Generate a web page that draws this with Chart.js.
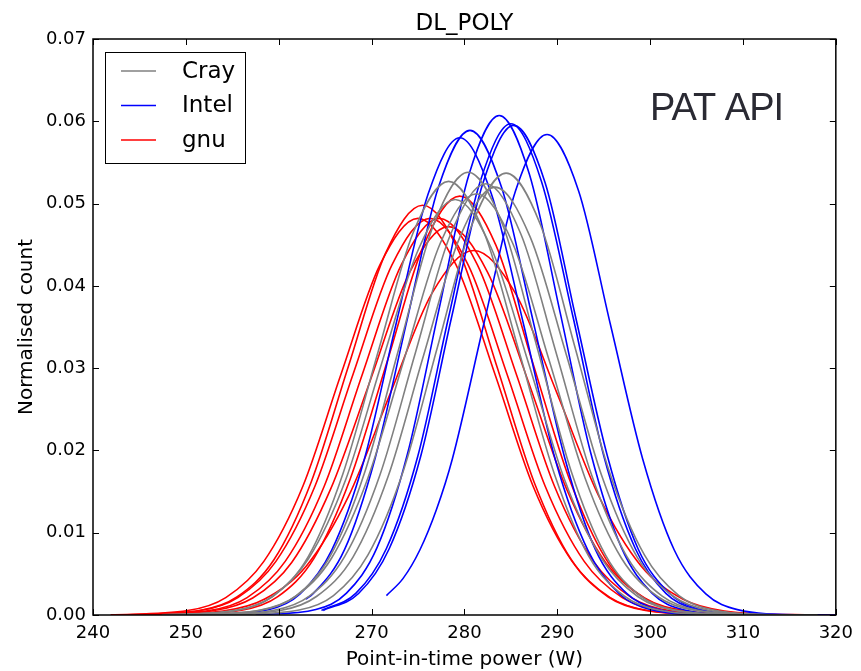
<!DOCTYPE html>
<html>
<head>
<meta charset="utf-8">
<script src="https://cdn.jsdelivr.net/npm/chart.js@4"></script>
<style>
  body { margin: 0; background: #fff; }
  #wrap { width: 861px; height: 671px; }
</style>
</head>
<body>
<div id="wrap"><canvas id="powerChart" width="861" height="671"></canvas></div>
<script>
// points (W, normalised count)
const crayX = [
  [250.7, 258.2, 261.9, 265.6, 269.3, 273.0, 276.7, 280.4, 284.1, 287.8, 291.5, 295.2, 298.9, 302.6, 310.1, 316],
  [254.8, 262.2, 265.9, 269.6, 273.4, 277.1, 280.8, 284.5, 288.2, 291.9, 295.6, 299.4, 303.1, 306.8, 314.2, 318],
  [248.0, 255.6, 259.4, 263.2, 266.9, 270.7, 274.5, 278.3, 282.1, 285.9, 289.7, 293.4, 297.2, 301.0, 308.6, 316],
  [251.9, 259.5, 263.3, 267.1, 270.9, 274.7, 278.5, 282.3, 286.1, 289.9, 293.7, 297.5, 301.3, 305.1, 312.7, 318],
  [250.1, 257.9, 261.8, 265.7, 269.6, 273.5, 277.4, 281.3, 285.2, 289.1, 293.0, 296.9, 300.8, 304.7, 312.5, 318],
  [252.6, 260.3, 264.1, 268.0, 271.8, 275.6, 279.5, 283.3, 287.1, 291.0, 294.8, 298.6, 302.5, 306.3, 314.0, 318],
  [247.4, 255.3, 259.3, 263.2, 267.2, 271.1, 275.1, 279.0, 282.9, 286.9, 290.8, 294.8, 298.7, 302.7, 310.6, 318]
];
const crayY = [
  [0.00002, 0.00060, 0.00236, 0.00728, 0.01747, 0.03263, 0.04748, 0.05380, 0.04748, 0.03263, 0.01747, 0.00728, 0.00236, 0.00060, 0.00002, 0],
  [0.00002, 0.00060, 0.00236, 0.00727, 0.01744, 0.03257, 0.04739, 0.05370, 0.04739, 0.03257, 0.01744, 0.00727, 0.00236, 0.00060, 0.00002, 0],
  [0.00002, 0.00058, 0.00231, 0.00713, 0.01711, 0.03196, 0.04651, 0.05270, 0.04651, 0.03196, 0.01711, 0.00713, 0.00231, 0.00058, 0.00002, 0],
  [0.00002, 0.00058, 0.00230, 0.00709, 0.01701, 0.03178, 0.04624, 0.05240, 0.04624, 0.03178, 0.01701, 0.00709, 0.00230, 0.00058, 0.00002, 0],
  [0.00002, 0.00057, 0.00225, 0.00693, 0.01662, 0.03105, 0.04518, 0.05120, 0.04518, 0.03105, 0.01662, 0.00693, 0.00225, 0.00057, 0.00002, 0],
  [0.00002, 0.00058, 0.00228, 0.00704, 0.01688, 0.03154, 0.04589, 0.05200, 0.04589, 0.03154, 0.01688, 0.00704, 0.00228, 0.00058, 0.00002, 0],
  [0.00002, 0.00056, 0.00222, 0.00683, 0.01640, 0.03063, 0.04457, 0.05050, 0.04457, 0.03063, 0.01640, 0.00683, 0.00222, 0.00056, 0.00002, 0]
];

const intelX = [
  [252.0, 258.9, 262.3, 265.7, 269.2, 272.6, 276.1, 279.5, 282.9, 286.4, 289.8, 293.3, 296.7, 300.1, 307.0, 316],
  [262.9, 263.7, 267.1, 270.4, 273.8, 277.2, 280.6, 284.0, 287.4, 290.8, 294.1, 297.5, 300.9, 307.7, 316],
  [257.5, 264.0, 267.3, 270.6, 273.9, 277.2, 280.5, 283.75, 287.0, 290.3, 293.6, 296.9, 300.2, 303.5, 310.0, 316],
  [264.6, 268.3, 271.6, 275.0, 278.3, 281.7, 285.0, 288.3, 291.7, 295.0, 298.4, 301.7, 305.0, 311.7, 318],
  [264.8, 268.6, 271.9, 275.3, 278.6, 282.0, 285.3, 288.7, 292.0, 295.4, 298.7, 302.1, 305.4, 312.1, 318],
  [271.6, 273.4, 275.2, 277.0, 278.7, 282.1, 285.5, 288.9, 292.3, 295.7, 299.2, 302.6, 306.0, 309.4, 316.2, 320]
];
const intelY = [
  [0.00002, 0.00064, 0.00255, 0.00785, 0.01883, 0.03518, 0.05119, 0.05800, 0.05119, 0.03518, 0.01883, 0.00785, 0.00255, 0.00064, 0.00002, 0],
  [0.00193, 0.00259, 0.00797, 0.01912, 0.03572, 0.05198, 0.05890, 0.05198, 0.03572, 0.01912, 0.00797, 0.00259, 0.00065, 0.00002, 0],
  [0.00002, 0.00067, 0.00266, 0.00821, 0.01971, 0.03681, 0.05357, 0.06070, 0.05357, 0.03681, 0.01971, 0.00821, 0.00266, 0.00067, 0.00002, 0],
  [0.00056, 0.00262, 0.00808, 0.01938, 0.03621, 0.05269, 0.05970, 0.05269, 0.03621, 0.01938, 0.00808, 0.00262, 0.00066, 0.00002, 0],
  [0.00055, 0.00261, 0.00805, 0.01932, 0.03609, 0.05251, 0.05950, 0.05251, 0.03609, 0.01932, 0.00805, 0.00261, 0.00066, 0.00002, 0],
  [0.00236, 0.00445, 0.00790, 0.01285, 0.01896, 0.03542, 0.05154, 0.05840, 0.05154, 0.03542, 0.01896, 0.00790, 0.00256, 0.00065, 0.00002, 0]
];

const gnuX = [
  [243.5, 251.5, 255.5, 259.5, 263.5, 267.5, 271.5, 275.5, 279.5, 283.5, 287.5, 291.5, 295.5, 299.5, 307.5, 318],
  [243.2, 251.5, 255.6, 259.7, 263.9, 268.0, 272.2, 276.3, 280.4, 284.6, 288.7, 292.9, 297.0, 301.1, 309.4, 318],
  [244.2, 252.5, 256.6, 260.7, 264.9, 269.0, 273.2, 277.3, 281.4, 285.6, 289.7, 293.9, 298.0, 302.1, 310.4, 318],
  [244.5, 252.9, 257.2, 261.4, 265.6, 269.9, 274.1, 278.3, 282.5, 286.8, 291.0, 295.2, 299.4, 303.7, 312.1, 318],
  [248.1, 256.0, 259.9, 263.8, 267.7, 271.7, 275.6, 279.5, 283.4, 287.3, 291.3, 295.2, 299.1, 303.0, 310.9, 318],
  [245.0, 254.0, 258.5, 263.0, 267.5, 272.0, 276.5, 281.0, 285.5, 290.0, 294.5, 299.0, 303.5, 308.0, 317.0, 320],
  [241.9, 250.2, 254.3, 258.4, 262.6, 266.7, 270.9, 275.0, 279.1, 283.3, 287.4, 291.6, 295.7, 299.8, 308.1, 318]
];
const gnuY = [
  [0.00002, 0.00055, 0.00219, 0.00674, 0.01617, 0.03020, 0.04395, 0.04980, 0.04395, 0.03020, 0.01617, 0.00674, 0.00219, 0.00055, 0.00002, 0],
  [0.00002, 0.00054, 0.00212, 0.00652, 0.01565, 0.02923, 0.04254, 0.04820, 0.04254, 0.02923, 0.01565, 0.00652, 0.00212, 0.00054, 0.00002, 0],
  [0.00002, 0.00054, 0.00212, 0.00652, 0.01565, 0.02923, 0.04254, 0.04820, 0.04254, 0.02923, 0.01565, 0.00652, 0.00212, 0.00054, 0.00002, 0],
  [0.00002, 0.00052, 0.00207, 0.00639, 0.01533, 0.02863, 0.04165, 0.04720, 0.04165, 0.02863, 0.01533, 0.00639, 0.00207, 0.00052, 0.00002, 0],
  [0.00002, 0.00057, 0.00223, 0.00689, 0.01653, 0.03087, 0.04492, 0.05090, 0.04492, 0.03087, 0.01653, 0.00689, 0.00223, 0.00057, 0.00002, 0],
  [0.00002, 0.00049, 0.00194, 0.00599, 0.01438, 0.02687, 0.03909, 0.04430, 0.03909, 0.02687, 0.01438, 0.00599, 0.00194, 0.00049, 0.00002, 0],
  [0.00002, 0.00054, 0.00212, 0.00652, 0.01565, 0.02923, 0.04254, 0.04820, 0.04254, 0.02923, 0.01565, 0.00652, 0.00212, 0.00054, 0.00002, 0]
];

const groupNames = ['Cray', 'Intel', 'gnu'];
const groupColors = ['#808080', '#0000ff', '#ff0000'];
const xTicks = [240, 250, 260, 270, 280, 290, 300, 310, 320];
const yTicks = [0, 0.01, 0.02, 0.03, 0.04, 0.05, 0.06, 0.07];

const FONT = '"DejaVu Sans", sans-serif';

function makeSets(xs, ys, color, name) {
    return xs.map((xRow, i) => ({
        label: name,
        data: xRow.map((x, j) => ({ x: x, y: ys[i][j] })),
        borderColor: color,
        borderWidth: 1.6,
        pointRadius: 0,
        fill: false,
        cubicInterpolationMode: 'monotone'
    }));
}

const datasets = [].concat(
    makeSets(crayX, crayY, groupColors[0], groupNames[0]),
    makeSets(intelX, intelY, groupColors[1], groupNames[1]),
    makeSets(gnuX, gnuY, groupColors[2], groupNames[2])
);

// frame, inward ticks, titles, legend and label drawn like the matplotlib original
const decor = {
    id: 'decor',
    afterDraw(chart) {
        const c = chart.ctx;
        const a = chart.chartArea;
        const sx = chart.scales.x, sy = chart.scales.y;
        c.save();
        c.strokeStyle = '#000';
        c.lineWidth = 1;
        xTicks.forEach(v => {
            const p = Math.round(sx.getPixelForValue(v)) + 0.5;
            c.beginPath();
            c.moveTo(p, a.bottom); c.lineTo(p, a.bottom - 6);
            c.moveTo(p, a.top); c.lineTo(p, a.top + 6);
            c.stroke();
        });
        yTicks.forEach(v => {
            const p = Math.round(sy.getPixelForValue(v)) + 0.5;
            c.beginPath();
            c.moveTo(a.left, p); c.lineTo(a.left + 6, p);
            c.moveTo(a.right, p); c.lineTo(a.right - 6, p);
            c.stroke();
        });
        c.lineWidth = 1.5;
        c.strokeRect(a.left, a.top, a.right - a.left, a.bottom - a.top);

        c.fillStyle = '#000';
        c.textAlign = 'center';
        c.textBaseline = 'alphabetic';
        c.font = '23px ' + FONT;
        c.fillText('DL_POLY', (a.left + a.right) / 2, 30);
        c.font = '20px ' + FONT;
        c.fillText('Point-in-time power (W)', (a.left + a.right) / 2, 665);
        c.save();
        c.translate(32, (a.top + a.bottom) / 2);
        c.rotate(-Math.PI / 2);
        c.fillText('Normalised count', 0, 0);
        c.restore();

        // legend
        c.fillStyle = '#fff';
        c.fillRect(105, 52, 140, 111);
        c.strokeStyle = '#000';
        c.lineWidth = 1;
        c.strokeRect(105.5, 52.5, 140, 111);
        c.textAlign = 'left';
        c.textBaseline = 'middle';
        c.font = '23px ' + FONT;
        groupNames.forEach((n, i) => {
            const y = 71 + i * 34.5;
            c.strokeStyle = groupColors[i];
            c.lineWidth = 1.6;
            c.beginPath();
            c.moveTo(121, y); c.lineTo(156, y);
            c.stroke();
            c.fillStyle = '#000';
            c.fillText(n, 182, y + 1);
        });

        c.fillStyle = '#2a2a33';
        c.textBaseline = 'alphabetic';
        c.font = '38px "Liberation Sans", Arial, sans-serif';
        c.letterSpacing = '-1px';
        c.fillText('PAT API', 650, 119.5);
        c.restore();
    }
};

new Chart(document.getElementById('powerChart'), {
    type: 'line',
    data: { datasets: datasets },
    options: {
        responsive: false,
        animation: false,
        devicePixelRatio: 1,
        layout: { padding: { top: 39, right: 22, left: 0, bottom: 0 } },
        plugins: {
            legend: { display: false },
            tooltip: { enabled: false }
        },
        scales: {
            x: {
                type: 'linear',
                min: 240,
                max: 320,
                afterFit: s => { s.height = 56; },
                afterBuildTicks: s => { s.ticks = xTicks.map(v => ({ value: v })); },
                grid: { display: false, drawTicks: false },
                border: { display: false },
                ticks: {
                    color: '#000',
                    padding: 8,
                    maxRotation: 0,
                    autoSkip: false,
                    font: { family: FONT, size: 18 }
                }
            },
            y: {
                min: 0,
                max: 0.07,
                afterFit: s => { s.width = 93; },
                afterBuildTicks: s => { s.ticks = yTicks.map(v => ({ value: v })); },
                grid: { display: false, drawTicks: false },
                border: { display: false },
                ticks: {
                    color: '#000',
                    padding: 7,
                    callback: v => v.toFixed(2),
                    font: { family: FONT, size: 18 }
                }
            }
        }
    },
    plugins: [decor]
});
</script>
</body>
</html>
